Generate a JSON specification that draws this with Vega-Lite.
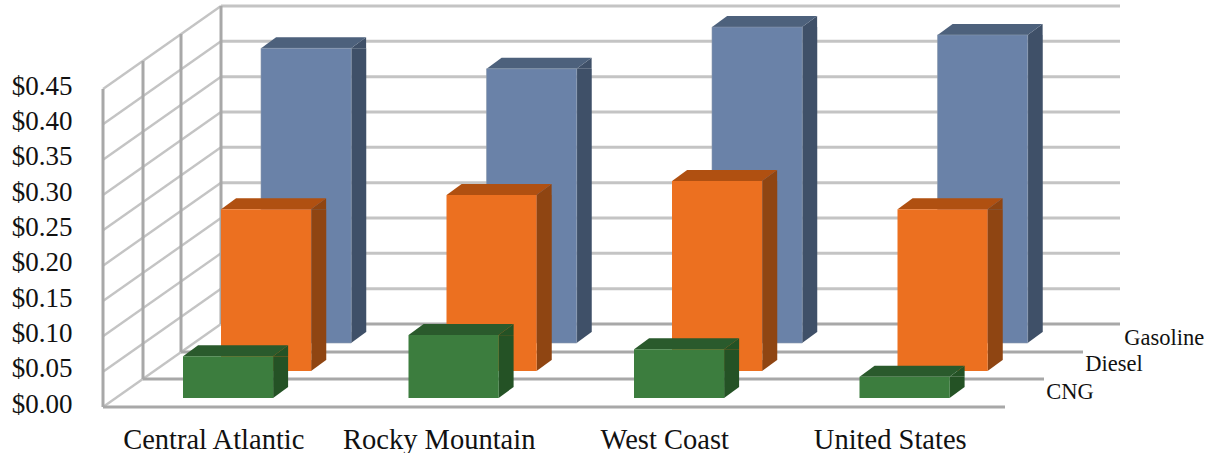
{"$schema":"https://vega.github.io/schema/vega-lite/v6.json","autosize":"none","width":902,"height":318,"padding":{"left":103,"top":89,"right":206,"bottom":46},"background":"white","config":{"view":{"stroke":null}},
"datasets":{"ticks":[{"tick":0.05},{"tick":0.1},{"tick":0.15},{"tick":0.2},{"tick":0.25},{"tick":0.3},{"tick":0.35},{"tick":0.4},{"tick":0.45}],"zero":[{"tick":0}],
"bars":[
{"region":"Central Atlantic","series":"CNG","value":0.059},{"region":"Rocky Mountain","series":"CNG","value":0.089},{"region":"West Coast","series":"CNG","value":0.069},{"region":"United States","series":"CNG","value":0.03},
{"region":"Central Atlantic","series":"Diesel","value":0.229},{"region":"Rocky Mountain","series":"Diesel","value":0.249},{"region":"West Coast","series":"Diesel","value":0.269},{"region":"United States","series":"Diesel","value":0.229},
{"region":"Central Atlantic","series":"Gasoline","value":0.417},{"region":"Rocky Mountain","series":"Gasoline","value":0.388},{"region":"West Coast","series":"Gasoline","value":0.447},{"region":"United States","series":"Gasoline","value":0.436}]},
"data":{"name":"bars"},
"resolve":{"scale":{"x":"independent"},"axis":{"x":"independent","y":"independent"}},
"layer":[
{"data":{"name":"ticks"},"mark":{"type":"rule","color":"#c4c4c4","strokeWidth":3,"xOffset":118,"x2Offset":115,"yOffset":-83,"y2Offset":-83},"encoding":{"x":{"datum":0,"type":"quantitative","scale":{"domain":[0,1]},"axis":null},"x2":{"datum":1},"y":{"field":"tick","type":"quantitative","scale":{"domain":[0,0.45],"nice":false},"axis":{"values":[0,0.05,0.1,0.15,0.2,0.25,0.3,0.35,0.4,0.45],"format":"$.2f","title":null,"domain":false,"ticks":false,"grid":false,"labelPadding":31,"labelOffset":-3,"labelFont":"Liberation Serif","labelFontSize":27,"labelColor":"#111111"}},"y2":{"field":"tick"}}},
{"data":{"name":"ticks"},"mark":{"type":"rule","color":"#c4c4c4","strokeWidth":2.4,"xOffset":0,"x2Offset":118,"yOffset":0,"y2Offset":-83},"encoding":{"x":{"datum":0,"type":"quantitative","scale":{"domain":[0,1]},"axis":null},"x2":{"datum":0},"y":{"field":"tick","type":"quantitative","axis":null},"y2":{"field":"tick"}}},
{"data":{"name":"zero"},"mark":{"type":"rule","color":"#c4c4c4","strokeWidth":2.4,"xOffset":0,"x2Offset":118,"yOffset":0,"y2Offset":-83},"encoding":{"x":{"datum":0,"type":"quantitative","scale":{"domain":[0,1]},"axis":null},"x2":{"datum":0},"y":{"field":"tick","type":"quantitative","axis":null},"y2":{"field":"tick"}}},
{"data":{"name":"zero"},"mark":{"type":"rule","color":"#a8a8a8","strokeWidth":3,"xOffset":0,"yOffset":0,"y2Offset":0},"encoding":{"x":{"datum":0,"type":"quantitative","scale":{"domain":[0,1]},"axis":null},"y":{"datum":0,"type":"quantitative","axis":null},"y2":{"datum":0.45}}},
{"data":{"name":"zero"},"mark":{"type":"rule","color":"#a8a8a8","strokeWidth":3,"xOffset":40,"yOffset":-28,"y2Offset":-28},"encoding":{"x":{"datum":0,"type":"quantitative","scale":{"domain":[0,1]},"axis":null},"y":{"datum":0,"type":"quantitative","axis":null},"y2":{"datum":0.45}}},
{"data":{"name":"zero"},"mark":{"type":"rule","color":"#a8a8a8","strokeWidth":3,"xOffset":78,"yOffset":-55,"y2Offset":-55},"encoding":{"x":{"datum":0,"type":"quantitative","scale":{"domain":[0,1]},"axis":null},"y":{"datum":0,"type":"quantitative","axis":null},"y2":{"datum":0.45}}},
{"data":{"name":"zero"},"mark":{"type":"rule","color":"#a8a8a8","strokeWidth":3,"xOffset":118,"yOffset":-83,"y2Offset":-83},"encoding":{"x":{"datum":0,"type":"quantitative","scale":{"domain":[0,1]},"axis":null},"y":{"datum":0,"type":"quantitative","axis":null},"y2":{"datum":0.45}}},
{"data":{"name":"zero"},"mark":{"type":"rule","color":"#a8a8a8","strokeWidth":3,"xOffset":118,"x2Offset":115,"yOffset":-83},"encoding":{"x":{"datum":0,"type":"quantitative","scale":{"domain":[0,1]},"axis":null},"x2":{"datum":1},"y":{"datum":0,"type":"quantitative","axis":null}}},
{"data":{"name":"zero"},"mark":{"type":"rule","color":"#a8a8a8","strokeWidth":3,"xOffset":78,"x2Offset":78,"yOffset":-55},"encoding":{"x":{"datum":0,"type":"quantitative","scale":{"domain":[0,1]},"axis":null},"x2":{"datum":1},"y":{"datum":0,"type":"quantitative","axis":null}}},
{"data":{"name":"zero"},"mark":{"type":"rule","color":"#a8a8a8","strokeWidth":3,"xOffset":40,"x2Offset":39,"yOffset":-28},"encoding":{"x":{"datum":0,"type":"quantitative","scale":{"domain":[0,1]},"axis":null},"x2":{"datum":1},"y":{"datum":0,"type":"quantitative","axis":null}}},
{"data":{"name":"zero"},"mark":{"type":"rule","color":"#a8a8a8","strokeWidth":3},"encoding":{"x":{"datum":0,"type":"quantitative","scale":{"domain":[0,1]},"axis":null},"x2":{"datum":1},"y":{"datum":0,"type":"quantitative","axis":null}}},

{"transform":[{"filter":"datum.series==='Gasoline'"}],"mark":{"type":"rule","color":"#3f5068","strokeWidth":15,"xOffset":143,"yOffset":-64,"y2Offset":-75},"encoding":{"x":{"field":"region","type":"nominal","scale":{"domain":["Central Atlantic","Rocky Mountain","West Coast","United States"],"paddingInner":0.6,"paddingOuter":0.3},"axis":{"title":null,"domain":false,"ticks":false,"grid":false,"labelAngle":0,"labelLimit":400,"labelPadding":18,"labelOffset":-2,"labelFont":"Liberation Serif","labelFontSize":28.5,"labelColor":"#111111"}},"y":{"field":"value","type":"quantitative","axis":null},"y2":{"datum":0}}},
{"transform":[{"filter":"datum.series==='Gasoline'"}],"mark":{"type":"point","shape":"M45 0L60 -11L60 0Z","size":4,"filled":true,"opacity":1,"color":"#3f5068","xOffset":90.35,"yOffset":-64},"encoding":{"x":{"field":"region","type":"nominal","scale":{"domain":["Central Atlantic","Rocky Mountain","West Coast","United States"],"paddingInner":0.6,"paddingOuter":0.3},"axis":null},"y":{"field":"value","type":"quantitative","axis":null}}},
{"transform":[{"filter":"datum.series==='Gasoline'"}],"mark":{"type":"point","shape":"M45 0L45 -11L60 -11Z","size":4,"filled":true,"opacity":1,"color":"#3f5068","xOffset":90.35,"yOffset":-64},"encoding":{"x":{"field":"region","type":"nominal","scale":{"domain":["Central Atlantic","Rocky Mountain","West Coast","United States"],"paddingInner":0.6,"paddingOuter":0.3},"axis":null},"y":{"datum":0,"type":"quantitative","axis":null}}},
{"transform":[{"filter":"datum.series==='Gasoline'"}],"mark":{"type":"point","shape":"M-45 0L45 0L60 -11L-30 -11Z","size":4,"filled":true,"opacity":1,"color":"#4d617c","xOffset":90.35,"yOffset":-64},"encoding":{"x":{"field":"region","type":"nominal","scale":{"domain":["Central Atlantic","Rocky Mountain","West Coast","United States"],"paddingInner":0.6,"paddingOuter":0.3},"axis":null},"y":{"field":"value","type":"quantitative","axis":null}}},
{"transform":[{"filter":"datum.series==='Gasoline'"}],"mark":{"type":"bar","color":"#6a82a8","stroke":"#8a98ad","strokeWidth":0.6,"xOffset":90.35,"x2Offset":90.35,"yOffset":-64,"y2Offset":-64},"encoding":{"x":{"field":"region","type":"nominal","scale":{"domain":["Central Atlantic","Rocky Mountain","West Coast","United States"],"paddingInner":0.6,"paddingOuter":0.3},"axis":null},"y":{"field":"value","type":"quantitative","axis":null},"y2":{"datum":0}}},

{"transform":[{"filter":"datum.series==='Diesel'"}],"mark":{"type":"rule","color":"#8f4512","strokeWidth":15,"xOffset":103,"yOffset":-36,"y2Offset":-47},"encoding":{"x":{"field":"region","type":"nominal","scale":{"domain":["Central Atlantic","Rocky Mountain","West Coast","United States"],"paddingInner":0.6,"paddingOuter":0.3},"axis":null},"y":{"field":"value","type":"quantitative","axis":null},"y2":{"datum":0}}},
{"transform":[{"filter":"datum.series==='Diesel'"}],"mark":{"type":"point","shape":"M45 0L60 -11L60 0Z","size":4,"filled":true,"opacity":1,"color":"#8f4512","xOffset":50.35,"yOffset":-36},"encoding":{"x":{"field":"region","type":"nominal","scale":{"domain":["Central Atlantic","Rocky Mountain","West Coast","United States"],"paddingInner":0.6,"paddingOuter":0.3},"axis":null},"y":{"field":"value","type":"quantitative","axis":null}}},
{"transform":[{"filter":"datum.series==='Diesel'"}],"mark":{"type":"point","shape":"M45 0L45 -11L60 -11Z","size":4,"filled":true,"opacity":1,"color":"#8f4512","xOffset":50.35,"yOffset":-36},"encoding":{"x":{"field":"region","type":"nominal","scale":{"domain":["Central Atlantic","Rocky Mountain","West Coast","United States"],"paddingInner":0.6,"paddingOuter":0.3},"axis":null},"y":{"datum":0,"type":"quantitative","axis":null}}},
{"transform":[{"filter":"datum.series==='Diesel'"}],"mark":{"type":"point","shape":"M-45 0L45 0L60 -11L-30 -11Z","size":4,"filled":true,"opacity":1,"color":"#b05011","xOffset":50.35,"yOffset":-36},"encoding":{"x":{"field":"region","type":"nominal","scale":{"domain":["Central Atlantic","Rocky Mountain","West Coast","United States"],"paddingInner":0.6,"paddingOuter":0.3},"axis":null},"y":{"field":"value","type":"quantitative","axis":null}}},
{"transform":[{"filter":"datum.series==='Diesel'"}],"mark":{"type":"bar","color":"#ec7020","xOffset":50.35,"x2Offset":50.35,"yOffset":-36,"y2Offset":-36},"encoding":{"x":{"field":"region","type":"nominal","scale":{"domain":["Central Atlantic","Rocky Mountain","West Coast","United States"],"paddingInner":0.6,"paddingOuter":0.3},"axis":null},"y":{"field":"value","type":"quantitative","axis":null},"y2":{"datum":0}}},

{"transform":[{"filter":"datum.series==='CNG'"}],"mark":{"type":"rule","color":"#245225","strokeWidth":15,"xOffset":64.85,"yOffset":-9,"y2Offset":-20},"encoding":{"x":{"field":"region","type":"nominal","scale":{"domain":["Central Atlantic","Rocky Mountain","West Coast","United States"],"paddingInner":0.6,"paddingOuter":0.3},"axis":null},"y":{"field":"value","type":"quantitative","axis":null},"y2":{"datum":0}}},
{"transform":[{"filter":"datum.series==='CNG'"}],"mark":{"type":"point","shape":"M45 0L60 -11L60 0Z","size":4,"filled":true,"opacity":1,"color":"#245225","xOffset":12.35,"yOffset":-9},"encoding":{"x":{"field":"region","type":"nominal","scale":{"domain":["Central Atlantic","Rocky Mountain","West Coast","United States"],"paddingInner":0.6,"paddingOuter":0.3},"axis":null},"y":{"field":"value","type":"quantitative","axis":null}}},
{"transform":[{"filter":"datum.series==='CNG'"}],"mark":{"type":"point","shape":"M45 0L45 -11L60 -11Z","size":4,"filled":true,"opacity":1,"color":"#245225","xOffset":12.35,"yOffset":-9},"encoding":{"x":{"field":"region","type":"nominal","scale":{"domain":["Central Atlantic","Rocky Mountain","West Coast","United States"],"paddingInner":0.6,"paddingOuter":0.3},"axis":null},"y":{"datum":0,"type":"quantitative","axis":null}}},
{"transform":[{"filter":"datum.series==='CNG'"}],"mark":{"type":"point","shape":"M-45 0L45 0L60 -11L-30 -11Z","size":4,"filled":true,"opacity":1,"color":"#2a5a2c","xOffset":12.35,"yOffset":-9},"encoding":{"x":{"field":"region","type":"nominal","scale":{"domain":["Central Atlantic","Rocky Mountain","West Coast","United States"],"paddingInner":0.6,"paddingOuter":0.3},"axis":null},"y":{"field":"value","type":"quantitative","axis":null}}},
{"transform":[{"filter":"datum.series==='CNG'"}],"mark":{"type":"bar","color":"#3c7d3e","xOffset":12.35,"x2Offset":12.35,"yOffset":-9,"y2Offset":-9},"encoding":{"x":{"field":"region","type":"nominal","scale":{"domain":["Central Atlantic","Rocky Mountain","West Coast","United States"],"paddingInner":0.6,"paddingOuter":0.3},"axis":null},"y":{"field":"value","type":"quantitative","axis":null},"y2":{"datum":0}}},

{"transform":[{"filter":"datum.series==='Gasoline' && datum.region==='United States'"}],"mark":{"type":"text","align":"left","baseline":"middle","font":"Liberation Serif","fontSize":22.5,"color":"#111111","xOffset":232,"yOffset":-69},"encoding":{"x":{"field":"region","type":"nominal","scale":{"domain":["Central Atlantic","Rocky Mountain","West Coast","United States"],"paddingInner":0.6,"paddingOuter":0.3},"axis":null},"y":{"datum":0,"type":"quantitative","axis":null},"text":{"field":"series"}}},
{"transform":[{"filter":"datum.series==='Diesel' && datum.region==='United States'"}],"mark":{"type":"text","align":"left","baseline":"middle","font":"Liberation Serif","fontSize":22.5,"color":"#111111","xOffset":193,"yOffset":-43},"encoding":{"x":{"field":"region","type":"nominal","scale":{"domain":["Central Atlantic","Rocky Mountain","West Coast","United States"],"paddingInner":0.6,"paddingOuter":0.3},"axis":null},"y":{"datum":0,"type":"quantitative","axis":null},"text":{"field":"series"}}},
{"transform":[{"filter":"datum.series==='CNG' && datum.region==='United States'"}],"mark":{"type":"text","align":"left","baseline":"middle","font":"Liberation Serif","fontSize":22.5,"color":"#111111","xOffset":154,"yOffset":-15},"encoding":{"x":{"field":"region","type":"nominal","scale":{"domain":["Central Atlantic","Rocky Mountain","West Coast","United States"],"paddingInner":0.6,"paddingOuter":0.3},"axis":null},"y":{"datum":0,"type":"quantitative","axis":null},"text":{"field":"series"}}}
]}
